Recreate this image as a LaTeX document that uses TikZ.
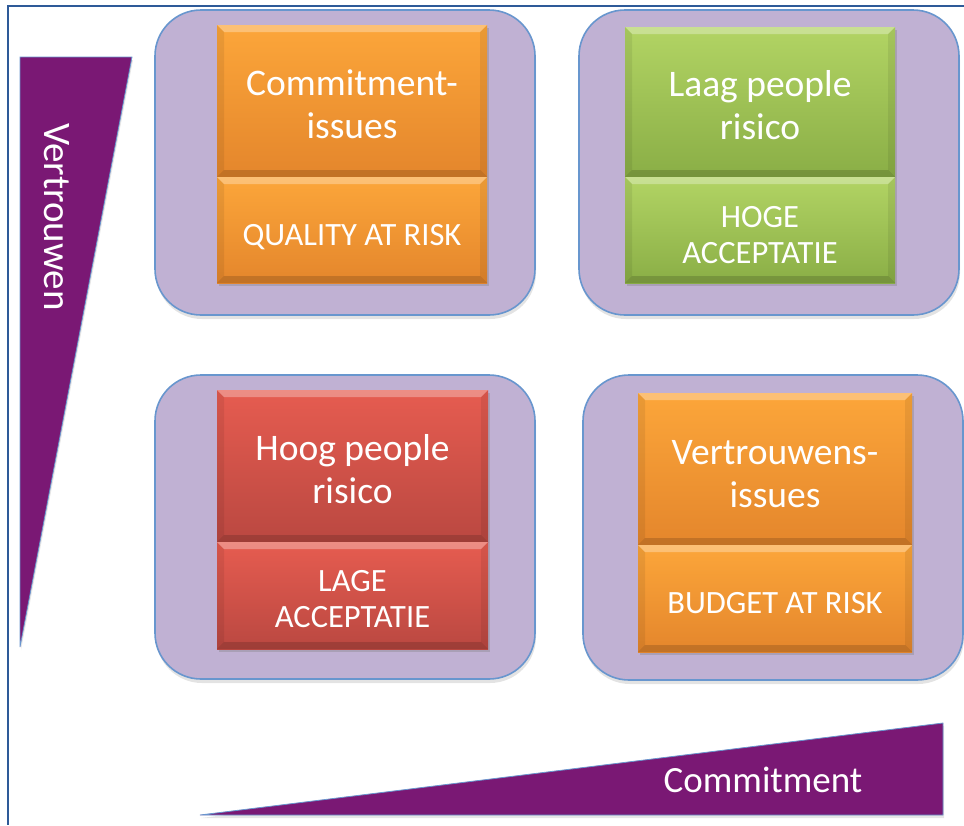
\documentclass[tikz,border=0pt]{standalone}
\usepackage{fontspec}
\setmainfont{Carlito}
\usetikzlibrary{shadows}

\definecolor{framecol}{RGB}{46,90,152}
\definecolor{panelfill}{RGB}{192,177,211}
\definecolor{paneledge}{RGB}{104,150,206}
\definecolor{axispurple}{RGB}{122,24,116}
\definecolor{orangetop}{RGB}{252,166,58}
\definecolor{orangebot}{RGB}{228,134,44}
\definecolor{greentop}{RGB}{178,212,100}
\definecolor{greenbot}{RGB}{138,174,70}
\definecolor{redtop}{RGB}{230,92,80}
\definecolor{redbot}{RGB}{186,72,65}

\begin{document}
\begin{tikzpicture}[x=1pt,y=-1pt,
  panel/.style={draw=paneledge, line width=1.6pt, fill=panelfill,
    rounded corners=46pt,
    drop shadow={shadow xshift=1pt, shadow yshift=-4pt, opacity=.22}},
  tile/.style={inner sep=0pt,
    drop shadow={shadow xshift=2pt, shadow yshift=-3pt, opacity=.35},
    path picture={
      \fill[white, opacity=.3]
        (path picture bounding box.north west) -- (path picture bounding box.north east)
        -- ([shift={(-7pt,-7pt)}]path picture bounding box.north east)
        -- ([shift={(7pt,-7pt)}]path picture bounding box.north west) -- cycle;
      \fill[black, opacity=.15]
        (path picture bounding box.south west) -- (path picture bounding box.south east)
        -- ([shift={(-7pt,7pt)}]path picture bounding box.south east)
        -- ([shift={(7pt,7pt)}]path picture bounding box.south west) -- cycle;
      \fill[black, opacity=.07]
        (path picture bounding box.north west) -- ([shift={(7pt,-7pt)}]path picture bounding box.north west)
        -- ([shift={(7pt,7pt)}]path picture bounding box.south west)
        -- (path picture bounding box.south west) -- cycle;
      \fill[black, opacity=.07]
        (path picture bounding box.north east) -- ([shift={(-7pt,-7pt)}]path picture bounding box.north east)
        -- ([shift={(-7pt,7pt)}]path picture bounding box.south east)
        -- (path picture bounding box.south east) -- cycle;
    }},
  orangetile/.style={tile, top color=orangetop, bottom color=orangebot},
  greentile/.style={tile, top color=greentop, bottom color=greenbot},
  redtile/.style={tile, top color=redtop, bottom color=redbot},
  headtxt/.style={text=white, align=center, inner sep=0pt, font=\fontsize{37.5}{43}\selectfont},
  subtxt/.style={text=white, align=center, inner sep=0pt, font=\fontsize{32.5}{36}\selectfont},
  axis/.style={fill=axispurple, draw=paneledge, line width=.8pt,
    drop shadow={shadow xshift=1pt, shadow yshift=-3pt, opacity=.2}},
  axistxt/.style={text=white, inner sep=0pt},
]
\useasboundingbox (0,0) rectangle (964,825);

% outer frame (only top and left edges are visible)
\draw[framecol, line width=2pt] (964,6) -- (8,6) -- (8,825);

% axis wedges
\path[axis] (20,57) -- (132,57) -- (20,647) -- cycle;
\node[axistxt, font=\fontsize{39}{43}\selectfont, rotate=-90] (trustLabel) at (57,217) {Vertrouwen};
\path[axis] (200,815) -- (943,723) -- (943,815) -- cycle;
\node[axistxt, font=\fontsize{37}{43}\selectfont] (commitLabel) at (763,780) {Commitment};

% quadrant panels
\node[panel, minimum width=380pt, minimum height=305pt] (pTL) at (345,162.5) {};
\node[panel, minimum width=380pt, minimum height=305pt] (pTR) at (769,162.5) {};
\node[panel, minimum width=380pt, minimum height=304pt] (pBL) at (345,527) {};
\node[panel, minimum width=380pt, minimum height=305pt] (pBR) at (773,527.5) {};

% top left: commitment issues
\node[orangetile, minimum width=270pt, minimum height=152pt] (tlHead) at (352,101) {};
\node[orangetile, minimum width=270pt, minimum height=106pt] (tlSub) at (352,230) {};
\node[headtxt] (tlHeadText) at (352,104) {Commitment-\\issues};
\node[subtxt] (tlSubText) at (352,237) {QUALITY AT RISK};

% top right: low people risk
\node[greentile, minimum width=270pt, minimum height=150pt] (trHead) at (760,102) {};
\node[greentile, minimum width=270pt, minimum height=106pt] (trSub) at (760,230) {};
\node[headtxt] (trHeadText) at (760,105) {Laag people\\risico};
\node[subtxt] (trSubText) at (760,235) {HOGE\\ACCEPTATIE};

% bottom left: high people risk
\node[redtile, minimum width=271pt, minimum height=152pt] (blHead) at (352.5,466) {};
\node[redtile, minimum width=271pt, minimum height=107pt] (blSub) at (352.5,595.5) {};
\node[headtxt] (blHeadText) at (352.5,469) {Hoog people\\risico};
\node[subtxt] (blSubText) at (352.5,599.5) {LAGE\\ACCEPTATIE};

% bottom right: trust issues
\node[orangetile, minimum width=274pt, minimum height=152pt] (brHead) at (775,469) {};
\node[orangetile, minimum width=274pt, minimum height=107pt] (brSub) at (775,598.5) {};
\node[headtxt] (brHeadText) at (775,474.5) {Vertrouwens-\\issues};
\node[subtxt] (brSubText) at (775,603.5) {BUDGET AT RISK};
\end{tikzpicture}
\end{document}
